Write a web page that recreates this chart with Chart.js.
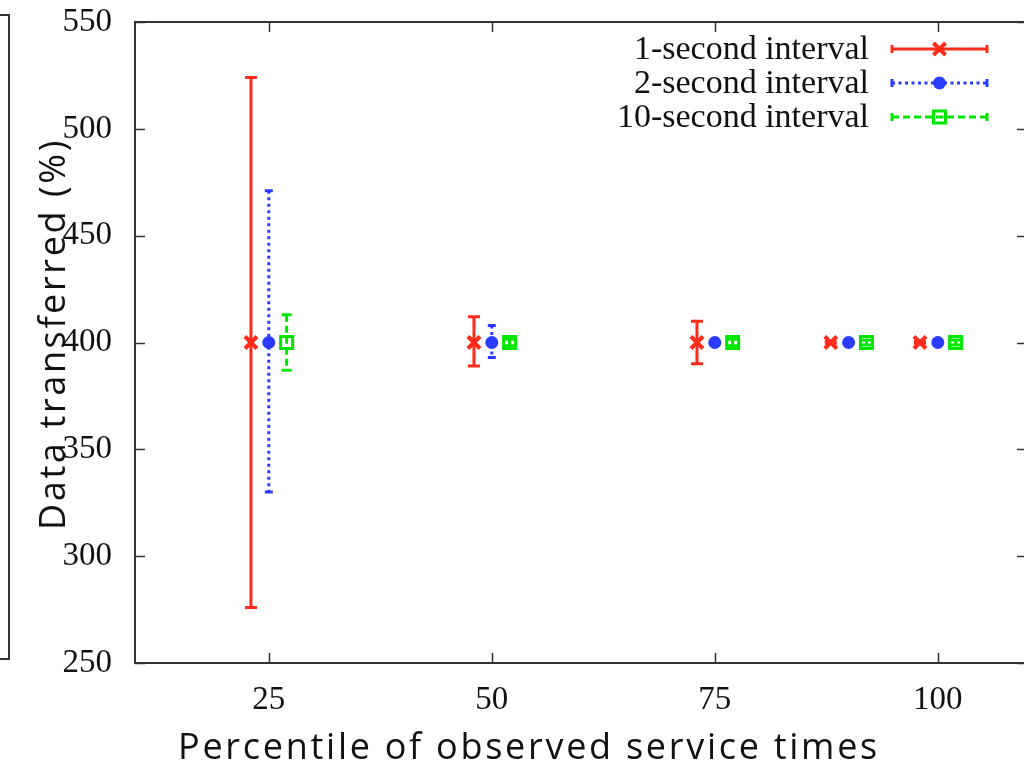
<!DOCTYPE html>
<html>
<head>
<meta charset="utf-8">
<script src="https://cdn.jsdelivr.net/npm/chart.js@4.4.1/dist/chart.umd.min.js"></script>
<style>
html, body { margin: 0; padding: 0; background: #fff; overflow: hidden; width: 1024px; height: 770px; }
#wrap { position: absolute; left: 0; top: 0; width: 1040px; height: 770px; }
#sideFrame { position: absolute; left: -6px; top: 14px; width: 14px; height: 642px; border: 2px solid #333; border-left: none; }
</style>
</head>
<body>
<div id="sideFrame"></div>
<div id="wrap"><canvas id="myChart" width="1040" height="770"></canvas></div>
<script>
var xTicks = [25, 50, 75, 100];
var yTicks = [250, 300, 350, 400, 450, 500, 550];
var xTitle = "Percentile of observed service times";
var yTitle = "Data transferred (%)";
var seriesNames = ["1-second interval", "2-second interval", "10-second interval"];
var seriesColors = ["#ff2a1a", "#2a3cff", "#00e600"];

// 1-second interval
var x1 = [23, 48, 73, 88, 98];
var y1 = [400, 400, 400, 400, 400];
var lo1 = [276, 389, 390, 399.6, 399.6];
var hi1 = [524, 412, 410, 400.4, 400.4];

// 2-second interval
var x2 = [25, 50, 75, 90, 100];
var y2 = [400, 400, 400, 400, 400];
var lo2 = [330, 393, 398.5, 399.6, 399.6];
var hi2 = [471, 408, 401.5, 400.4, 400.4];

// 10-second interval
var x3 = [27, 52, 77, 92, 102];
var y3 = [400, 400, 400, 400, 400];
var lo3 = [387, 398.5, 398.5, 398.8, 398.8];
var hi3 = [413, 401.5, 401.5, 401.2, 401.2];

function pts(xs, ys, lo, hi) {
  return xs.map(function (x, i) { return { x: x, y: ys[i], yMin: lo[i], yMax: hi[i] }; });
}

var dashes = [[], [3, 3.5], [7, 4]];
var capHalf = [6, 4, 5];
var titleFont = '500 36px "Open Sans", Lato, sans-serif';

// draw text stretched to a given length (the slide font is wider than what we have)
function spacedText(ctx, text, x, y, len) {
  ctx.font = titleFont;
  if ('letterSpacing' in ctx) ctx.letterSpacing = '0px';
  var w = ctx.measureText(text).width;
  var sp = Math.max(0, (len - w) / text.length);
  if ('letterSpacing' in ctx) {
    ctx.letterSpacing = sp + 'px';
    ctx.fillText(text, x, y);
    ctx.letterSpacing = '0px';
  } else {
    var cx = x;
    for (var i = 0; i < text.length; i++) {
      ctx.fillText(text[i], cx, y);
      cx += ctx.measureText(text[i]).width + sp;
    }
  }
}

var errorBars = {
  id: 'errorBars',
  beforeDatasetsDraw: function (chart) {
    var ctx = chart.ctx, xs = chart.scales.x, ys = chart.scales.y;
    ctx.save();
    chart.data.datasets.forEach(function (ds, di) {
      ctx.strokeStyle = ds.borderColor;
      ctx.lineWidth = 3;
      ds.data.forEach(function (p) {
        var px = xs.getPixelForValue(p.x);
        var t = ys.getPixelForValue(p.yMax);
        var b = ys.getPixelForValue(p.yMin);
        ctx.setLineDash(dashes[di]);
        ctx.beginPath();
        ctx.moveTo(px, t); ctx.lineTo(px, b);
        ctx.stroke();
        ctx.setLineDash([]);
        var c = capHalf[di];
        ctx.beginPath();
        ctx.moveTo(px - c, t); ctx.lineTo(px + c, t);
        ctx.moveTo(px - c, b); ctx.lineTo(px + c, b);
        ctx.stroke();
      });
    });
    ctx.restore();
  }
};

var frameTicks = {
  id: 'frameTicks',
  afterDraw: function (chart) {
    var ctx = chart.ctx, a = chart.chartArea, xs = chart.scales.x, ys = chart.scales.y;
    ctx.save();
    ctx.strokeStyle = '#333';
    ctx.lineWidth = 2;
    ctx.strokeRect(a.left, a.top, a.right - a.left, a.bottom - a.top);
    ctx.lineWidth = 1.5;
    ctx.beginPath();
    xTicks.forEach(function (v) {
      var px = Math.round(xs.getPixelForValue(v)) + 0.5;
      ctx.moveTo(px, a.bottom); ctx.lineTo(px, a.bottom - 10);
      ctx.moveTo(px, a.top); ctx.lineTo(px, a.top + 10);
    });
    yTicks.forEach(function (v) {
      var py = Math.round(ys.getPixelForValue(v)) + 0.5;
      ctx.moveTo(a.left, py); ctx.lineTo(a.left + 10, py);
      ctx.moveTo(a.right, py); ctx.lineTo(a.right - 10, py);
    });
    ctx.stroke();

    // axis titles
    ctx.fillStyle = '#111';
    ctx.textAlign = 'left';
    ctx.textBaseline = 'alphabetic';
    spacedText(ctx, xTitle, 178, 759, 702);
    ctx.save();
    ctx.translate(65, 530);
    ctx.rotate(-Math.PI / 2);
    spacedText(ctx, yTitle, 0, 0, 392);
    ctx.restore();

    // legend with error-bar samples
    ctx.font = '34px "Liberation Serif", "DejaVu Serif", serif';
    ctx.textAlign = 'right';
    ctx.textBaseline = 'middle';
    chart.data.datasets.forEach(function (ds, di) {
      var y = a.top + 27 + di * 34;
      ctx.fillStyle = '#111';
      ctx.fillText(ds.label, a.right - 158, y + 1);
      var x0 = a.right - 135, x1e = a.right - 40, mid = (x0 + x1e) / 2;
      ctx.strokeStyle = ds.borderColor;
      ctx.lineWidth = 3;
      ctx.setLineDash(dashes[di]);
      ctx.beginPath();
      ctx.moveTo(x0, y); ctx.lineTo(x1e, y);
      ctx.stroke();
      ctx.setLineDash([]);
      ctx.beginPath();
      ctx.moveTo(x0, y - 4); ctx.lineTo(x0, y + 4);
      ctx.moveTo(x1e, y - 4); ctx.lineTo(x1e, y + 4);
      ctx.stroke();
      ctx.fillStyle = ds.pointBackgroundColor;
      ctx.strokeStyle = ds.borderColor;
      ctx.lineWidth = ds.pointBorderWidth;
      Chart.helpers.drawPoint(ctx, {
        pointStyle: ds.pointStyle, radius: ds.pointRadius, borderWidth: ds.pointBorderWidth, rotation: 0
      }, mid, y);
    });
    ctx.restore();
  }
};

new Chart('myChart', {
  type: 'scatter',
  data: {
    datasets: [
      { label: seriesNames[0], data: pts(x1, y1, lo1, hi1), borderColor: seriesColors[0], pointBackgroundColor: seriesColors[0],
        pointStyle: 'crossRot', pointRadius: 8.5, pointBorderWidth: 4, pointBorderColor: seriesColors[0] },
      { label: seriesNames[1], data: pts(x2, y2, lo2, hi2), borderColor: seriesColors[1], pointBackgroundColor: seriesColors[1],
        pointStyle: 'circle', pointRadius: 6.5, pointBorderWidth: 0, pointBorderColor: seriesColors[1] },
      { label: seriesNames[2], data: pts(x3, y3, lo3, hi3), borderColor: seriesColors[2], pointBackgroundColor: 'rgba(0,0,0,0)',
        pointStyle: 'rect', pointRadius: 8.5, pointBorderWidth: 3, pointBorderColor: seriesColors[2] }
    ]
  },
  options: {
    responsive: false,
    animation: false,
    layout: { padding: { left: 0, top: 22, right: 13, bottom: 0 } },
    plugins: { legend: { display: false }, tooltip: { enabled: false } },
    scales: {
      x: {
        type: 'linear', min: 10, max: 110,
        afterBuildTicks: function (s) { s.ticks = xTicks.map(function (v) { return { value: v }; }); },
        afterFit: function (s) { s.height = 107; s.paddingLeft = 0; s.paddingRight = 0; },
        grid: { display: false, drawTicks: false },
        border: { display: false },
        ticks: { color: '#111', padding: 18, maxRotation: 0, font: { family: '"Liberation Serif", serif', size: 33 } },
        title: { display: false, text: xTitle }
      },
      y: {
        type: 'linear', min: 250, max: 550,
        afterBuildTicks: function (s) { s.ticks = yTicks.map(function (v) { return { value: v }; }); },
        afterFit: function (s) { s.width = 135; s.paddingTop = 0; s.paddingBottom = 0; },
        grid: { display: false, drawTicks: false },
        border: { display: false },
        ticks: { color: '#111', padding: 23, font: { family: '"Liberation Serif", serif', size: 33 } },
        title: { display: false, text: yTitle }
      }
    }
  },
  plugins: [errorBars, frameTicks]
});
</script>
</body>
</html>
